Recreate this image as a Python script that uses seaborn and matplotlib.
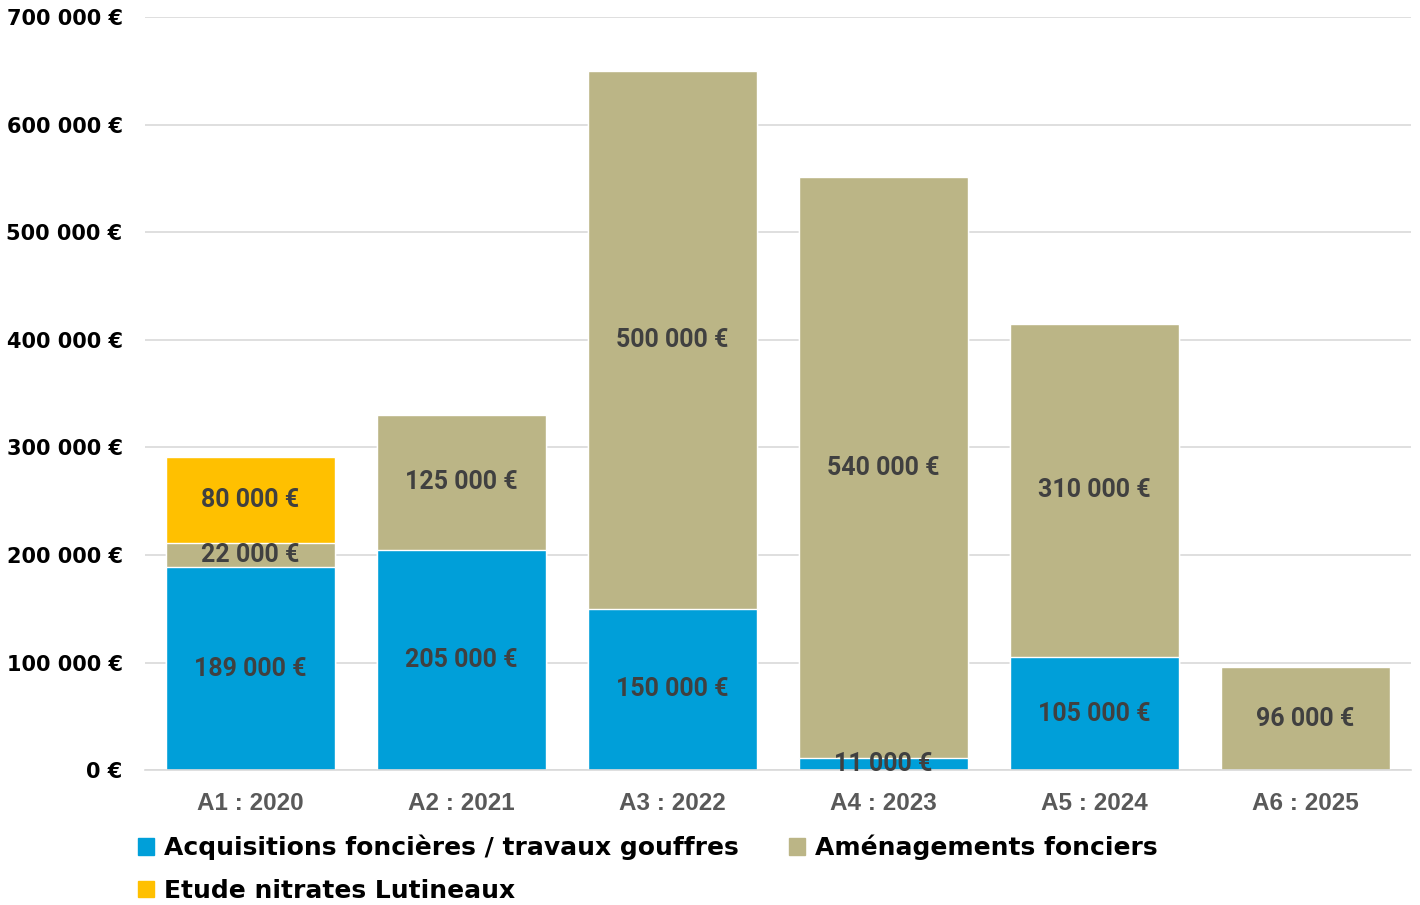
import pandas as pd
import matplotlib.pyplot as plt
import seaborn as sns
from matplotlib.patches import Patch

# data
annees = ["A1 : 2020", "A2 : 2021", "A3 : 2022", "A4 : 2023", "A5 : 2024", "A6 : 2025"]
acquisitions = [189000, 205000, 150000, 11000, 105000, 0]
amenagements = [22000, 125000, 500000, 540000, 310000, 96000]
etude = [80000, 0, 0, 0, 0, 0]

series_names = ["Acquisitions foncières / travaux gouffres", "Aménagements fonciers", "Etude nitrates Lutineaux"]
colors = ["#009FD9", "#BBB586", "#FFC000"]

df = pd.DataFrame({"annee": annees, "acq": acquisitions, "amen": amenagements, "etude": etude})
df["cum1"] = df["acq"]
df["cum2"] = df["acq"] + df["amen"]
df["cum3"] = df["cum2"] + df["etude"]

def euro(v):
    return f"{int(v):,}".replace(",", " ") + " €"

sns.set_style("white")
plt.rcParams["font.family"] = ["DejaVu Sans"]

fig = plt.figure(figsize=(14.2, 9.05), dpi=100)
ax = fig.add_axes([0.102, 0.149, 0.8917, 0.832])

# stacked bars: draw cumulative totals from top to bottom
sns.barplot(data=df, x="annee", y="cum3", color=colors[2], saturation=1, width=0.8, ax=ax)
sns.barplot(data=df, x="annee", y="cum2", color=colors[1], saturation=1, width=0.8, ax=ax)
sns.barplot(data=df, x="annee", y="cum1", color=colors[0], saturation=1, width=0.8, ax=ax)

# segment labels
for i, row in df.iterrows():
    segs = [(row["acq"], 0), (row["amen"], row["cum1"]), (row["etude"], row["cum2"])]
    for val, base in segs:
        if val > 0:
            ax.text(i, base + val / 2, euro(val), ha="center", va="center",
                    fontsize=18, fontweight="bold", color="#404040", family="Roboto")

ax.set_ylim(0, 700000)
ax.set_xlim(-0.5, 5.5)
ax.set_yticks(range(0, 700001, 100000))
ax.set_yticklabels([euro(v) for v in range(0, 700001, 100000)], fontsize=15, fontweight="bold", color="black")
ax.set_xticks(range(len(annees)))
ax.set_xticklabels(annees, fontsize=17.5, fontweight="bold", color="#595959", family="Liberation Sans")
ax.tick_params(axis="both", length=0)
ax.tick_params(axis="y", pad=16)
ax.tick_params(axis="x", pad=16)
ax.set_xlabel("")
ax.set_ylabel("")

ax.yaxis.grid(True, color="#d9d9d9", linewidth=1.2)
ax.set_axisbelow(True)
for s in ["top", "right", "left"]:
    ax.spines[s].set_visible(False)
ax.spines["bottom"].set_color("#d9d9d9")
ax.spines["bottom"].set_linewidth(1.2)

handles = [Patch(color=colors[0]), Patch(color=colors[2]), Patch(color=colors[1])]
labels = [series_names[0], series_names[2], series_names[1]]
fig.legend(handles, labels, ncol=2, loc="upper left", bbox_to_anchor=(0.090, 0.089),
           frameon=False, prop={"size": 18, "weight": "bold"}, labelcolor="black",
           handlelength=0.65, handleheight=0.65, handletextpad=0.4,
           columnspacing=2.0, labelspacing=0.75, borderaxespad=0)

fig.savefig("out.png", dpi=100)
